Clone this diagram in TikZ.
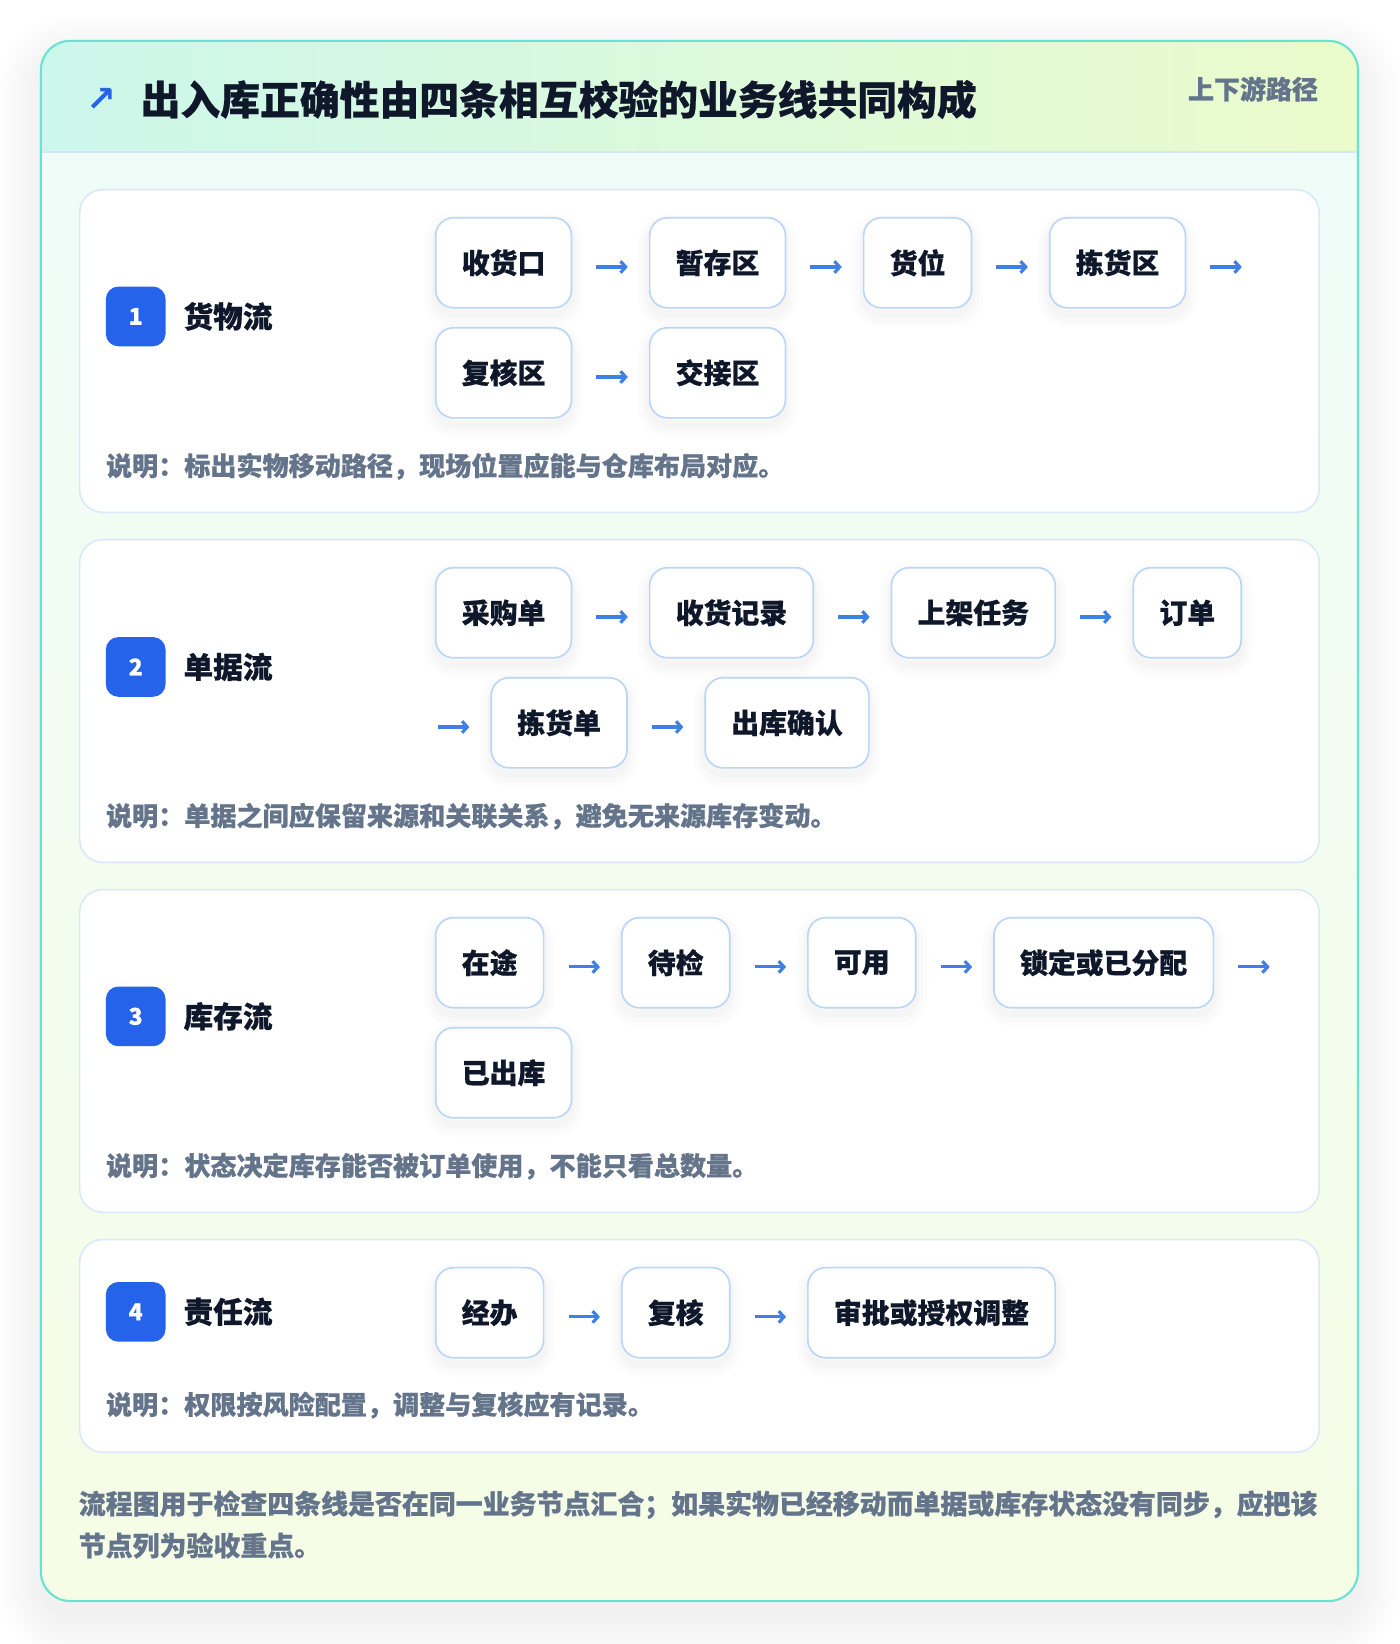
\documentclass[tikz,border=0pt]{standalone}
\usepackage{fontspec}
\setmainfont{Noto Sans CJK SC}[BoldFeatures={FakeBold=0.6}]
\newfontfamily\symfont{DejaVu Sans}
\usetikzlibrary{positioning,calc,arrows.meta}
\definecolor{cOuter}{HTML}{67E3CF}
\definecolor{cHdrL}{HTML}{CCF7EB}
\definecolor{cHdrR}{HTML}{EBFBCB}
\definecolor{cBodyT}{HTML}{EFFCF8}
\definecolor{cBodyB}{HTML}{F6FDE6}
\definecolor{cHdrLine}{HTML}{D6E6FA}
\definecolor{cCard}{HTML}{D9E8FB}
\definecolor{cChip}{HTML}{BCD6F8}
\definecolor{cBadge}{HTML}{2563EB}
\definecolor{cArrow}{HTML}{3F80E6}
\definecolor{cInk}{HTML}{0F172A}
\definecolor{cNote}{HTML}{64748B}
\tikzset{
  softshadow/.style={
    preaction={draw=black, draw opacity=.010, line width=22, transform canvas={yshift=-7pt}},
    preaction={draw=black, draw opacity=.012, line width=14, transform canvas={yshift=-7pt}},
    preaction={draw=black, draw opacity=.016, line width=7, transform canvas={yshift=-6pt}}},
  chip/.style={draw=cChip, line width=1.6, fill=white, rounded corners=17,
    minimum height=86, inner xsep=24.9, inner ysep=0, text=cInk,
    font=\fontsize{26.6}{30}\selectfont\bfseries, softshadow},
  flow/.style={draw=cArrow, line width=3, -{Straight Barb[length=5pt,width=11pt]}},
  card/.style={draw=cCard, line width=1.5, fill=white, rounded corners=22},
  badge/.style={fill=cBadge, rounded corners=12, minimum size=57, inner sep=0,
    text=white, font=\fontsize{22}{24}\selectfont\bfseries},
  lbl/.style={anchor=west, text=cInk, font=\fontsize{28.3}{32}\selectfont\bfseries, inner sep=0},
  note/.style={anchor=west, text=cNote, font=\fontsize{24.9}{28}\selectfont\bfseries, inner sep=0},
  gap/.style={right=73pt of #1},
}
\begin{document}
\begin{tikzpicture}[x=1pt,y=-1pt]
\useasboundingbox (0,0) rectangle (1336,1569);
\fill[white] (0,0) rectangle (1336,1569);
% outer card shadow
\foreach \e in {2,5,...,41} {
  \fill[black, opacity=.0055, rounded corners={28+\e}] ({39-\e},{39-\e+16}) rectangle ({1296+\e},{1528+\e+16});
}
\begin{scope}
  \clip[rounded corners=28] (39,39) rectangle (1296,1528);
  \fill[white] (39,39) rectangle (1296,1528);
  \shade[left color=cHdrL, right color=cHdrR] (39,39) rectangle (1296,145);
  \shade[top color=cBodyT, bottom color=cBodyB] (39,145) rectangle (1296,1528);
\end{scope}
\draw[cHdrLine, line width=1.5] (40,145) -- (1295,145);
\draw[cOuter, line width=2, rounded corners=28] (39,39) rectangle (1296,1528);

% header
\node[text=cBadge, font=\symfont\bfseries\fontsize{34}{36}\selectfont, inner sep=0] (ic) at (96.5,95) {↗};
\node[anchor=west, text=cInk, font=\fontsize{38}{44}\selectfont\bfseries, inner sep=0] (title) at (134,95) {出入库正确性由四条相互校验的业务线共同构成};
\node[anchor=east, text=cNote, font=\fontsize{24.8}{28}\selectfont\bfseries, inner sep=0] (tag) at (1258,85) {上下游路径};

% cards
\path[card] (76,181) rectangle (1259,489);
\path[card] (76,515) rectangle (1259,823);
\path[card] (76,849) rectangle (1259,1157);
\path[card] (76,1183) rectangle (1259,1386);

% card 1
\node[badge] (b1) at (129.5,302) {1};
\node[lbl] (l1) at (175,302) {货物流};
\node[chip, anchor=north west] (c11) at (415,207) {收货口};
\node[chip, gap=c11] (c12) {暂存区};
\node[chip, gap=c12] (c13) {货位};
\node[chip, gap=c13] (c14) {拣货区};
\node[chip, anchor=north west] (c15) at (415,312) {复核区};
\node[chip, gap=c15] (c16) {交接区};
\draw[flow] ($(c11.east)+(23,4)$) -- ($(c12.west)+(-20,4)$);
\draw[flow] ($(c12.east)+(23,4)$) -- ($(c13.west)+(-20,4)$);
\draw[flow] ($(c13.east)+(23,4)$) -- ($(c14.west)+(-20,4)$);
\draw[flow] ($(c14.east)+(23,4)$) -- ++(30,0);
\draw[flow] ($(c15.east)+(23,4)$) -- ($(c16.west)+(-20,4)$);
\node[note] (n1) at (101,445) {说明：标出实物移动路径，现场位置应能与仓库布局对应。};

% card 2
\node[badge] (b2) at (129.5,636.5) {2};
\node[lbl] (l2) at (175,636.5) {单据流};
\node[chip, anchor=north west] (c21) at (415,541) {采购单};
\node[chip, gap=c21] (c22) {收货记录};
\node[chip, gap=c22] (c23) {上架任务};
\node[chip, gap=c23] (c24) {订单};
\node[chip, anchor=north west] (c25) at (468,646) {拣货单};
\node[chip, gap=c25] (c26) {出库确认};
\draw[flow] ($(c21.east)+(23,4)$) -- ($(c22.west)+(-20,4)$);
\draw[flow] ($(c22.east)+(23,4)$) -- ($(c23.west)+(-20,4)$);
\draw[flow] ($(c23.east)+(23,4)$) -- ($(c24.west)+(-20,4)$);
\draw[flow] ($(c25.west)+(-50,4)$) -- ($(c25.west)+(-20,4)$);
\draw[flow] ($(c25.east)+(23,4)$) -- ($(c26.west)+(-20,4)$);
\node[note] (n2) at (101,779) {说明：单据之间应保留来源和关联关系，避免无来源库存变动。};

% card 3
\node[badge] (b3) at (129.5,970) {3};
\node[lbl] (l3) at (175,970) {库存流};
\node[chip, anchor=north west] (c31) at (415,875) {在途};
\node[chip, gap=c31] (c32) {待检};
\node[chip, gap=c32] (c33) {可用};
\node[chip, gap=c33] (c34) {锁定或已分配};
\node[chip, anchor=north west] (c35) at (415,980) {已出库};
\draw[flow] ($(c31.east)+(23,4)$) -- ($(c32.west)+(-20,4)$);
\draw[flow] ($(c32.east)+(23,4)$) -- ($(c33.west)+(-20,4)$);
\draw[flow] ($(c33.east)+(23,4)$) -- ($(c34.west)+(-20,4)$);
\draw[flow] ($(c34.east)+(23,4)$) -- ++(30,0);
\node[note] (n3) at (101,1113) {说明：状态决定库存能否被订单使用，不能只看总数量。};

% card 4
\node[badge] (b4) at (129.5,1252) {4};
\node[lbl] (l4) at (175,1252) {责任流};
\node[chip, anchor=north west] (c41) at (415,1209) {经办};
\node[chip, gap=c41] (c42) {复核};
\node[chip, gap=c42] (c43) {审批或授权调整};
\draw[flow] ($(c41.east)+(23,4)$) -- ($(c42.west)+(-20,4)$);
\draw[flow] ($(c42.east)+(23,4)$) -- ($(c43.west)+(-20,4)$);
\node[note] (n4) at (101,1341) {说明：权限按风险配置，调整与复核应有记录。};

% bottom paragraph
\node[anchor=west, align=left, text=cNote, font=\fontsize{25.7}{40}\selectfont\bfseries, inner sep=0] (foot) at (75,1455)
  {流程图用于检查四条线是否在同一业务节点汇合；如果实物已经移动而单据或库存状态没有同步，应把该\\节点列为验收重点。};
\end{tikzpicture}
\end{document}
